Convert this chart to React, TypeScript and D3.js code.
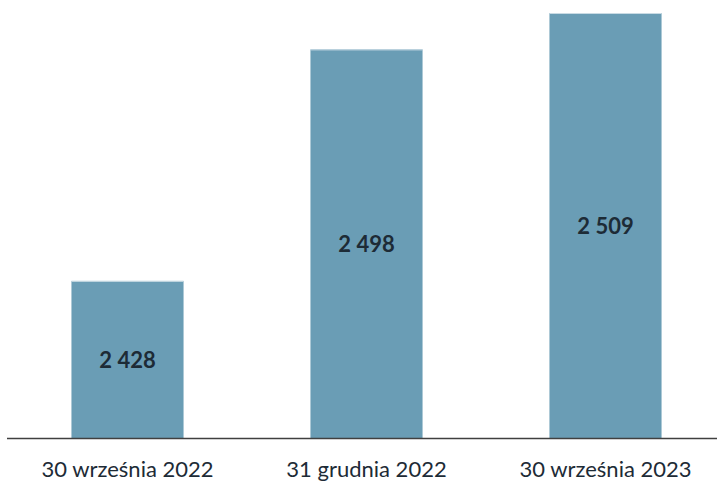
import React from "react";
import * as d3 from "d3";

const categories = ["30 września 2022", "31 grudnia 2022", "30 września 2023"];
const values = [2428, 2498, 2509];
const valueLabels = ["2 428", "2 498", "2 509"];

export default function App() {
  const W = 717, H = 482;
  const baseY = 438;
  const x = d3.scaleBand<string>().domain(categories).range([8, 725]).paddingInner(0.531).paddingOuter(0.2655);
  const y = d3.scaleLinear().domain([2380.5, 2509]).range([baseY, 13]);
  return (
    <svg width={W} height={H} style={{ position: "absolute", left: 0, top: 0, background: "#fff" }}>
      {values.map((v, i) => {
        const bx = x(categories[i])!;
        const by = y(v);
        return (
          <g key={i}>
            <rect x={bx} y={by} width={x.bandwidth()} height={baseY - by} fill="#6a9db5" />
            <line x1={bx} x2={bx + x.bandwidth()} y1={by + 0.5} y2={by + 0.5} stroke="#c9dbe4" strokeWidth={1} />
            <text x={bx + x.bandwidth() / 2} y={(by + baseY) / 2} textAnchor="middle" dominantBaseline="central"
              fontFamily="Lato, 'Open Sans', sans-serif" fontWeight={700} fontSize={22} fill="#1d2b36">{valueLabels[i]}</text>
          </g>
        );
      })}
      <line x1={7} x2={717} y1={baseY + 0.5} y2={baseY + 0.5} stroke="#404040" strokeWidth={1.5} />
      {categories.map((c, i) => (
        <text key={c} x={x(c)! + x.bandwidth() / 2} y={477} textAnchor="middle"
          fontFamily="Lato, 'Open Sans', sans-serif" fontSize={22} fill="#1d2b36">{c}</text>
      ))}
    </svg>
  );
}
